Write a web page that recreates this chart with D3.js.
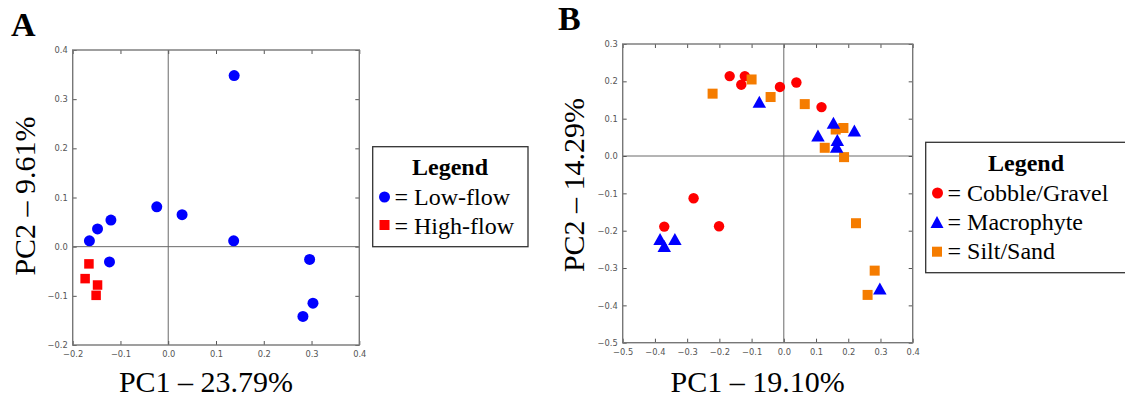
<!DOCTYPE html>
<html>
<head>
<meta charset="utf-8">
<script src="https://cdn.jsdelivr.net/npm/d3@7"></script>
<style>
  html, body { margin: 0; padding: 0; background: #fff; }
  svg { display: block; }
</style>
</head>
<body>
<svg id="chart" width="1125" height="402"></svg>
<script>
// ---------- Data: Panel A ----------
const lowFlowX  = [0.138, -0.024, 0.029, -0.120, -0.148, -0.165, 0.137, -0.123, 0.296, 0.303, 0.282];
const lowFlowY  = [0.348, 0.081, 0.065, 0.054, 0.036, 0.012, 0.012, -0.031, -0.026, -0.115, -0.142];
const highFlowX = [-0.166, -0.174, -0.148, -0.151];
const highFlowY = [-0.035, -0.065, -0.078, -0.099];
const ticksAX = [-0.2, -0.1, 0.0, 0.1, 0.2, 0.3, 0.4];
const ticksAY = [-0.2, -0.1, 0.0, 0.1, 0.2, 0.3, 0.4];
const legendA = ["= Low-flow", "= High-flow"];

// ---------- Data: Panel B ----------
const cobbleX = [-0.168, -0.121, -0.132, -0.012, 0.039, 0.117, -0.280, -0.371, -0.201];
const cobbleY = [0.214, 0.214, 0.191, 0.185, 0.197, 0.131, -0.113, -0.189, -0.188];
const macroX  = [-0.076, 0.154, 0.106, 0.219, 0.166, 0.164, -0.384, -0.338, -0.371, 0.298];
const macroY  = [0.145, 0.089, 0.055, 0.068, 0.043, 0.025, -0.222, -0.222, -0.241, -0.355];
const siltX   = [-0.221, -0.100, -0.041, 0.065, 0.161, 0.185, 0.127, 0.187, 0.224, 0.282, 0.260];
const siltY   = [0.167, 0.205, 0.158, 0.139, 0.071, 0.075, 0.022, -0.003, -0.180, -0.307, -0.372];
const ticksBX = [-0.5, -0.4, -0.3, -0.2, -0.1, 0.0, 0.1, 0.2, 0.3, 0.4];
const ticksBY = [-0.5, -0.4, -0.3, -0.2, -0.1, 0.0, 0.1, 0.2, 0.3];
const legendB = ["= Cobble/Gravel", "= Macrophyte", "= Silt/Sand"];

const BLUE = "#0000ff", RED = "#ff0000", ORANGE = "#f57c00";
const SERIF = "'Liberation Serif', 'Times New Roman', serif";
const fmt = d3.format(".1f");

const svg = d3.select("#chart");

function panel(cfg) {
  const x = d3.scaleLinear().domain(cfg.xd).range([cfg.l, cfg.r]);
  const y = d3.scaleLinear().domain(cfg.yd).range([cfg.b, cfg.t]);
  const g = svg.append("g");

  // zero lines
  g.append("line").attr("x1", x(0)).attr("x2", x(0)).attr("y1", cfg.t).attr("y2", cfg.b)
    .attr("stroke", "#6a6a6a").attr("stroke-width", 1);
  g.append("line").attr("x1", cfg.l).attr("x2", cfg.r).attr("y1", y(0)).attr("y2", y(0))
    .attr("stroke", "#6a6a6a").attr("stroke-width", 1);

  const tk = 4;
  // bottom axis (ticks inward)
  const ax = g.append("g").attr("transform", `translate(0,${cfg.b})`)
    .call(d3.axisBottom(x).tickValues(cfg.tx).tickSize(-tk).tickPadding(6).tickFormat(fmt));
  const at = g.append("g").attr("transform", `translate(0,${cfg.t})`)
    .call(d3.axisTop(x).tickValues(cfg.tx).tickSize(-tk).tickFormat(""));
  const ay = g.append("g").attr("transform", `translate(${cfg.l},0)`)
    .call(d3.axisLeft(y).tickValues(cfg.ty).tickSize(-tk).tickPadding(5).tickFormat(fmt));
  const ar = g.append("g").attr("transform", `translate(${cfg.r},0)`)
    .call(d3.axisRight(y).tickValues(cfg.ty).tickSize(-tk).tickFormat(""));
  [ax, at, ay, ar].forEach(a => {
    a.select(".domain").remove();
    a.selectAll("line").attr("stroke", "#555").attr("stroke-width", 1);
    a.selectAll("text").attr("fill", "#555").attr("font-family", "'DejaVu Sans', sans-serif").attr("font-size", 8.3);
  });

  // frame
  g.append("rect").attr("x", cfg.l).attr("y", cfg.t).attr("width", cfg.r - cfg.l).attr("height", cfg.b - cfg.t)
    .attr("fill", "none").attr("stroke", "#777").attr("stroke-width", 1.4);

  return { x, y, g };
}

function squares(g, x, y, xs, ys, color, s) {
  g.selectAll(null).data(d3.zip(xs, ys)).join("rect")
    .attr("x", d => x(d[0]) - s / 2).attr("y", d => y(d[1]) - s / 2)
    .attr("width", s).attr("height", s).attr("fill", color);
}
function circles(g, x, y, xs, ys, color, r) {
  g.selectAll(null).data(d3.zip(xs, ys)).join("circle")
    .attr("cx", d => x(d[0])).attr("cy", d => y(d[1])).attr("r", r).attr("fill", color);
}
const triPath = (w, h) => `M0,${-h / 2}L${w / 2},${h / 2}L${-w / 2},${h / 2}Z`;
function triangles(g, x, y, xs, ys, color, w, h) {
  g.selectAll(null).data(d3.zip(xs, ys)).join("path")
    .attr("transform", d => `translate(${x(d[0])},${y(d[1])})`)
    .attr("d", triPath(w, h)).attr("fill", color);
}

// ---------- Panel A ----------
const A = panel({ xd: [-0.2, 0.4], yd: [-0.2, 0.4], l: 72.7, r: 359.3, t: 50, b: 345, tx: ticksAX, ty: ticksAY });
circles(A.g, A.x, A.y, lowFlowX, lowFlowY, BLUE, 5.5);
squares(A.g, A.x, A.y, highFlowX, highFlowY, RED, 9.5);

svg.append("text").attr("x", 11).attr("y", 36).text("A")
  .attr("font-family", SERIF).attr("font-weight", "bold").attr("font-size", 34);
svg.append("text").attr("transform", "translate(35,196) rotate(-90)").attr("text-anchor", "middle")
  .attr("font-family", SERIF).attr("font-size", 30).text("PC2 – 9.61%");
svg.append("text").attr("x", 206).attr("y", 392).attr("text-anchor", "middle")
  .attr("font-family", SERIF).attr("font-size", 30).text("PC1 – 23.79%");

// Legend A
const lgA = svg.append("g");
lgA.append("rect").attr("x", 372.7).attr("y", 146.7).attr("width", 155.3).attr("height", 100)
  .attr("fill", "#fff").attr("stroke", "#333").attr("stroke-width", 1.3);
lgA.append("text").attr("x", 450).attr("y", 175).attr("text-anchor", "middle")
  .attr("font-family", SERIF).attr("font-weight", "bold").attr("font-size", 24).text("Legend");
lgA.append("circle").attr("cx", 384.5).attr("cy", 197).attr("r", 5.5).attr("fill", BLUE);
lgA.append("rect").attr("x", 379.5).attr("y", 220).attr("width", 10).attr("height", 10).attr("fill", RED);
lgA.selectAll("text.item").data(legendA).join("text").attr("class", "item")
  .attr("x", 394.5).attr("y", (d, i) => 204.5 + i * 29)
  .attr("font-family", SERIF).attr("font-size", 24).text(d => d);

// ---------- Panel B ----------
const B = panel({ xd: [-0.5, 0.4], yd: [-0.5, 0.3], l: 622.7, r: 912.7, t: 44, b: 342.7, tx: ticksBX, ty: ticksBY });
circles(B.g, B.x, B.y, cobbleX, cobbleY, RED, 5.2);
squares(B.g, B.x, B.y, siltX, siltY, ORANGE, 10);
triangles(B.g, B.x, B.y, macroX, macroY, BLUE, 13.5, 12);

svg.append("text").attr("x", 558).attr("y", 30).text("B")
  .attr("font-family", SERIF).attr("font-weight", "bold").attr("font-size", 34);
svg.append("text").attr("transform", "translate(584,185) rotate(-90)").attr("text-anchor", "middle")
  .attr("font-family", SERIF).attr("font-size", 30).text("PC2 – 14.29%");
svg.append("text").attr("x", 757.6).attr("y", 392).attr("text-anchor", "middle")
  .attr("font-family", SERIF).attr("font-size", 30).text("PC1 – 19.10%");

// Legend B
const lgB = svg.append("g");
lgB.append("rect").attr("x", 925.7).attr("y", 142.3).attr("width", 210).attr("height", 130.4)
  .attr("fill", "#fff").attr("stroke", "#333").attr("stroke-width", 1.3);
lgB.append("text").attr("x", 1026).attr("y", 171).attr("text-anchor", "middle")
  .attr("font-family", SERIF).attr("font-weight", "bold").attr("font-size", 24).text("Legend");
lgB.append("circle").attr("cx", 937.5).attr("cy", 193).attr("r", 5.5).attr("fill", RED);
lgB.append("path").attr("transform", "translate(937,222)").attr("d", triPath(13, 12)).attr("fill", BLUE);
lgB.append("rect").attr("x", 932).attr("y", 246.7).attr("width", 10).attr("height", 10).attr("fill", ORANGE);
lgB.selectAll("text.item").data(legendB).join("text").attr("class", "item")
  .attr("x", 947.5).attr("y", (d, i) => 201 + i * 29)
  .attr("font-family", SERIF).attr("font-size", 24).text(d => d);
</script>
</body>
</html>
